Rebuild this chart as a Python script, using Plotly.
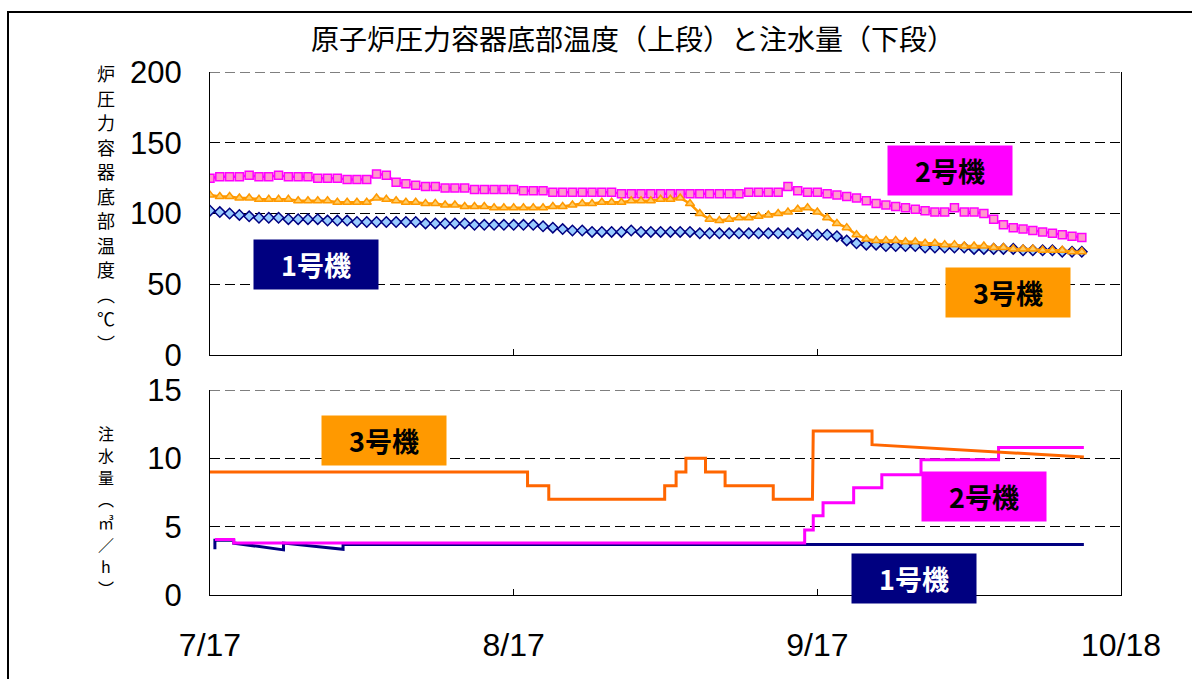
import pandas as pd
import plotly.graph_objects as go

# ---------------- data ----------------
start_date = "2011-07-17"
n_days = 90
temp_dates = pd.date_range(start_date, periods=n_days, freq="D")

temp_u1 = [102, 101, 100, 99, 98, 97, 97, 97, 96, 96,
           96, 96, 95, 95, 95, 94, 94, 94, 94, 94,
           94, 94, 93, 93, 93, 93, 93, 92, 92, 92,
           92, 92, 92, 92, 91, 90, 89, 88, 88, 87,
           87, 87, 87, 88, 87, 87, 87, 87, 87, 87,
           86, 86, 86, 86, 86, 86, 86, 86, 86, 86,
           86, 85, 85, 85, 84, 81, 79, 78, 78, 77,
           77, 77, 77, 76, 76, 76, 76, 76, 75, 75,
           75, 75, 75, 74, 74, 74, 74, 73, 73, 73]

temp_u2 = [125, 126, 126, 126, 127, 126, 126, 127, 126, 126,
           126, 125, 125, 125, 124, 124, 124, 128, 127, 122,
           121, 120, 119, 119, 118, 118, 118, 117, 117, 117,
           117, 117, 116, 116, 116, 115, 115, 115, 115, 115,
           115, 115, 114, 114, 114, 114, 114, 114, 114, 114,
           114, 114, 114, 114, 114, 115, 115, 115, 115, 119,
           116, 115, 115, 114, 113, 112, 111, 109, 107, 106,
           105, 104, 103, 102, 101, 101, 104, 101, 101, 100,
           96, 92, 90, 89, 88, 87, 86, 85, 84, 83]

temp_u3 = [113, 112, 112, 111, 111, 110, 110, 110, 110, 109,
           109, 109, 109, 108, 108, 108, 108, 111, 110, 109,
           108, 108, 107, 107, 106, 106, 105, 105, 105, 104,
           104, 104, 104, 104, 104, 105, 105, 106, 107, 107,
           108, 108, 108, 109, 109, 109, 110, 110, 111, 107,
           100, 96, 95, 96, 97, 97, 98, 99, 100, 101,
           103, 104, 101, 97, 93, 90, 85, 82, 81, 81,
           81, 80, 80, 79, 79, 78, 78, 77, 77, 77,
           76, 76, 75, 75, 75, 74, 74, 74, 73, 73]

# water injection (m3/h) - vertices of the recorded lines
inj_u1_t = ["2011-07-17 12:00", "2011-07-17 12:00", "2011-07-19 10:00", "2011-07-19 10:00",
            "2011-07-24 12:00", "2011-07-24 12:00", "2011-07-30 14:00", "2011-07-30 14:00",
            "2011-10-14 05:00"]
inj_u1_v = [3.35, 4.0, 4.0, 3.8, 3.3, 3.8, 3.35, 3.7, 3.7]

inj_u2_t = ["2011-07-17 12:00", "2011-07-19 10:00", "2011-07-19 10:00", "2011-09-15 17:00",
            "2011-09-15 17:00", "2011-09-16 14:00", "2011-09-16 14:00", "2011-09-17 14:00",
            "2011-09-17 14:00", "2011-09-20 17:00", "2011-09-20 17:00", "2011-09-23 14:00",
            "2011-09-23 14:00", "2011-09-27 14:00", "2011-09-27 14:00", "2011-10-05 12:00",
            "2011-10-05 12:00", "2011-10-14 05:00"]
inj_u2_v = [4.07, 4.07, 3.8, 3.8, 4.75, 4.75, 5.8, 5.8, 6.75, 6.75, 7.85, 7.85,
            8.8, 8.8, 9.9, 9.9, 10.8, 10.8]

inj_u3_t = ["2011-07-16 20:00", "2011-08-18 10:00", "2011-08-18 10:00", "2011-08-20 14:00",
            "2011-08-20 14:00", "2011-09-01 10:00", "2011-09-01 10:00", "2011-09-02 14:00",
            "2011-09-02 14:00", "2011-09-03 14:00", "2011-09-03 14:00", "2011-09-05 14:00",
            "2011-09-05 14:00", "2011-09-07 14:00", "2011-09-07 14:00", "2011-09-12 12:00",
            "2011-09-12 12:00", "2011-09-16 12:00", "2011-09-16 14:00", "2011-09-22 14:00",
            "2011-09-22 14:00", "2011-10-14 05:00"]
inj_u3_v = [9, 9, 8, 8, 7, 7, 8, 8, 9, 9, 10, 10, 9, 9, 8, 8, 7, 7, 12, 12, 11, 10.1]

tick_dates = ["2011-07-17", "2011-08-17", "2011-09-17", "2011-10-18"]
tick_labels = ["7/17", "8/17", "9/17", "10/18"]
x_range = ["2011-07-17", "2011-10-18"]

title_text = "原子炉圧力容器底部温度（上段）と注水量（下段）"
ytitle_top = ["炉", "圧", "力", "容", "器", "底", "部", "温", "度", "︵", "℃", "︶"]
ytitle_bot = ["注", "水", "量", "︵", "㎥", "／", "h", "︶"]
unit_names = ["1号機", "2号機", "3号機"]

# ---------------- figure ----------------
W, H = 1192, 679          # reference picture size (paper fractions below are px / W, px / H)
CJK = "Noto Sans CJK JP"
NUM = "Liberation Sans, Arial, sans-serif"

fig = go.Figure()

fig.add_trace(go.Scatter(x=temp_dates, y=temp_u1, mode="lines+markers", xaxis="x", yaxis="y",
                         line=dict(color="#000080", width=2.5),
                         marker=dict(symbol="diamond", size=8, color="#99CCFF",
                                     line=dict(color="#000080", width=1.5))))
fig.add_trace(go.Scatter(x=temp_dates, y=temp_u2, mode="lines+markers", xaxis="x", yaxis="y",
                         line=dict(color="#FF00FF", width=2.5),
                         marker=dict(symbol="square", size=8, color="#FF99CC",
                                     line=dict(color="#FF00FF", width=1.5))))
fig.add_trace(go.Scatter(x=temp_dates, y=temp_u3, mode="lines+markers", xaxis="x", yaxis="y",
                         line=dict(color="#FF9900", width=2.5),
                         marker=dict(symbol="triangle-up", size=8, color="#FFCC66",
                                     line=dict(color="#FF9900", width=1.5))))

fig.add_trace(go.Scatter(x=inj_u1_t, y=inj_u1_v, mode="lines", xaxis="x2", yaxis="y2",
                         line=dict(color="#000080", width=3)))
fig.add_trace(go.Scatter(x=inj_u2_t, y=inj_u2_v, mode="lines", xaxis="x2", yaxis="y2",
                         line=dict(color="#FF00FF", width=3)))
fig.add_trace(go.Scatter(x=inj_u3_t, y=inj_u3_v, mode="lines", xaxis="x2", yaxis="y2",
                         line=dict(color="#FF6600", width=3)))

xdom = [210 / W, 1121 / W]
ydom_top = [1 - 355 / H, 1 - 72 / H]
ydom_bot = [1 - 595 / H, 1 - 390 / H]

line_common = dict(showline=True, linecolor="black", linewidth=1, zeroline=False,
                   automargin=False)
grid_common = dict(showgrid=True, gridcolor="black", griddash="10px,5px", gridwidth=1)
# y labels sit ~25px left of the axis line: invisible outside ticks provide the gap
ylab_common = dict(ticks="outside", ticklen=21, tickcolor="rgba(0,0,0,0)", mirror=True)

fig.update_layout(
    autosize=True,
    margin=dict(l=0, r=0, t=0, b=0, pad=0, autoexpand=False),
    paper_bgcolor="white", plot_bgcolor="white",
    showlegend=False,
    xaxis=dict(domain=xdom, anchor="y", type="date", range=x_range,
               tickvals=tick_dates, ticktext=tick_labels, showticklabels=False,
               showgrid=False, ticks="inside", ticklen=6, tickcolor="black", **line_common),
    yaxis=dict(domain=ydom_top, anchor="x", range=[0, 200], tickvals=[0, 50, 100, 150, 200],
               tickfont=dict(family=NUM, size=31, color="black"),
               **ylab_common, **grid_common, **line_common),
    xaxis2=dict(domain=xdom, anchor="y2", type="date", range=x_range,
                tickvals=tick_dates, ticktext=tick_labels, showgrid=False,
                ticks="inside", ticklen=6, tickcolor="black", ticklabelstandoff=22,
                tickfont=dict(family=NUM, size=32, color="black"), **line_common),
    yaxis2=dict(domain=ydom_bot, anchor="x2", range=[0, 15], tickvals=[0, 5, 10, 15],
                tickfont=dict(family=NUM, size=31, color="black"),
                **ylab_common, **grid_common, **line_common),
)

# dashed top edges of both panels (top gridlines)
for yref_, ytop in (("y", 200), ("y2", 15)):
    fig.add_shape(type="line", xref="x domain", yref=yref_, x0=0, x1=1, y0=ytop, y1=ytop,
                  line=dict(color="black", width=1, dash="10px,5px"), layer="above")

# outer frame
fig.add_shape(type="rect", xref="paper", yref="paper",
              x0=8 / W, x1=1.05, y0=-0.05, y1=1 - 12 / H,
              line=dict(color="black", width=2), fillcolor="rgba(0,0,0,0)", layer="above")

# title
fig.add_annotation(text=title_text, xref="paper", yref="paper", x=633 / W, y=1 - 38 / H,
                   xanchor="center", yanchor="middle", showarrow=False,
                   font=dict(family=CJK, size=28, color="black"))

# vertical axis titles, one character per row
top_first, top_last = 73, 343
for i, ch in enumerate(ytitle_top):
    cy = top_first + i * (top_last - top_first) / (len(ytitle_top) - 1)
    fig.add_annotation(text=ch, xref="paper", yref="paper", x=106 / W, y=1 - cy / H,
                       xanchor="center", yanchor="middle", showarrow=False, borderpad=0,
                       font=dict(family=CJK, size=18, color="black"))
bot_first, bot_last = 433, 588
for i, ch in enumerate(ytitle_bot):
    cy = bot_first + i * (bot_last - bot_first) / (len(ytitle_bot) - 1)
    fig.add_annotation(text=ch, xref="paper", yref="paper", x=106 / W, y=1 - cy / H,
                       xanchor="center", yanchor="middle", showarrow=False, borderpad=0,
                       font=dict(family=CJK, size=16, color="black"))

# unit label boxes
boxes = [
    (unit_names[0], 316, 265, "#000080", "white"),
    (unit_names[1], 950, 170, "#FF00FF", "black"),
    (unit_names[2], 1008, 292, "#FF9900", "black"),
    (unit_names[2], 384, 440, "#FF9900", "black"),
    (unit_names[1], 984, 496, "#FF00FF", "black"),
    (unit_names[0], 914, 578, "#000080", "white"),
]
for name, cx, cy, bg, fg in boxes:
    fig.add_annotation(text="<b>" + name + "</b>", xref="paper", yref="paper",
                       x=cx / W, y=1 - cy / H, xanchor="center", yanchor="middle",
                       showarrow=False, width=124, height=49, bgcolor=bg, borderpad=0,
                       font=dict(family=CJK, size=27, color=fg))

# the figure div fills the browser window exactly
fig.write_html("out.html", config={"responsive": True, "displayModeBar": False},
               default_width="100vw; position:fixed; left:0; top:0",
               default_height="100vh")
